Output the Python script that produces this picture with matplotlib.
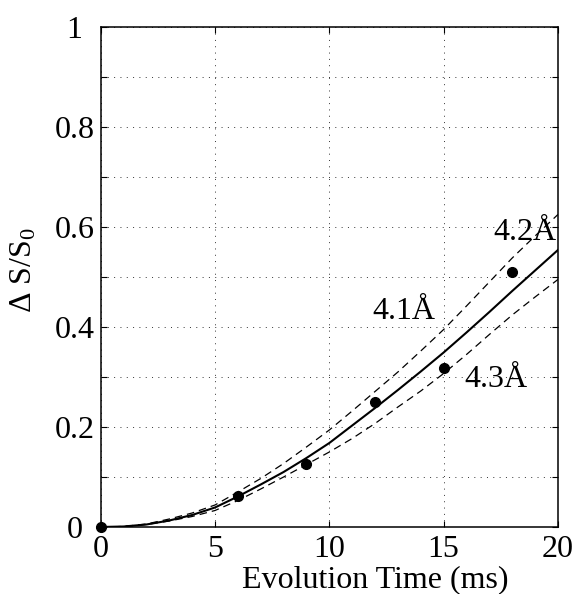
import matplotlib
matplotlib.use("Agg")
import matplotlib.pyplot as plt
import numpy as np

plt.rcParams["font.family"] = ["Liberation Serif", "DejaVu Serif"]
plt.rcParams["mathtext.fontset"] = "custom"
plt.rcParams["mathtext.rm"] = "Liberation Serif"
plt.rcParams["mathtext.it"] = "Liberation Serif:italic"

# measured points
t_meas = [0, 6, 9, 12, 15, 18]
ds_meas = [0.0, 0.062, 0.125, 0.249, 0.317, 0.509]

# simulated curves at 1 ms steps
t_sim = [0, 1, 2, 3, 4, 5, 6, 7, 8, 9, 10, 11, 12, 13, 14, 15, 16, 17, 18, 19, 20]
ds_41 = [0.0, 0.001, 0.006, 0.016, 0.028, 0.044, 0.070, 0.097, 0.127, 0.160, 0.194,
         0.232, 0.271, 0.310, 0.352, 0.395, 0.442, 0.490, 0.538, 0.582, 0.625]
ds_42 = [0.0, 0.001, 0.005, 0.013, 0.024, 0.039, 0.061, 0.085, 0.110, 0.138, 0.168,
         0.203, 0.238, 0.274, 0.311, 0.349, 0.389, 0.430, 0.472, 0.513, 0.554]
ds_43 = [0.0, 0.001, 0.005, 0.012, 0.021, 0.033, 0.053, 0.076, 0.100, 0.125, 0.150,
         0.177, 0.207, 0.240, 0.272, 0.307, 0.345, 0.385, 0.424, 0.460, 0.495]

curve_labels = ["4.1Å", "4.2Å", "4.3Å"]
x_ticks = [0, 5, 10, 15, 20]
y_ticks = [0, 0.1, 0.2, 0.3, 0.4, 0.5, 0.6, 0.7, 0.8, 0.9, 1.0]
y_ticklabels = ["0", "", "0.2", "", "0.4", "", "0.6", "", "0.8", "", "1"]

fig = plt.figure(figsize=(5.82, 5.94), dpi=100)
ax = fig.add_axes([0.173, 0.1128, 0.7857, 0.8418])

ax.plot(t_sim, ds_41, color="black", lw=0.9, ls=(0, (6, 4)))
ax.plot(t_sim, ds_43, color="black", lw=0.9, ls=(0, (6, 4)))
ax.plot(t_sim, ds_42, color="black", lw=1.5)
ax.plot(t_meas, ds_meas, "o", color="black", ms=7, clip_on=False, zorder=5)

ax.text(18.55, 0.588, curve_labels[1], fontsize=23, ha="center", va="center")
ax.text(13.26, 0.431, curve_labels[0], fontsize=23, ha="center", va="center")
ax.text(17.3, 0.294, curve_labels[2], fontsize=23, ha="center", va="center")

ax.set_xlim(0, 20)
ax.set_ylim(0, 1)
ax.set_xticks(x_ticks)
ax.set_yticks(y_ticks)
ax.set_yticklabels(y_ticklabels, ha="center")
ax.tick_params(axis="both", direction="in", length=4, width=0.8, top=True, right=True,
               labelsize=23)
ax.tick_params(axis="y", pad=19)
ax.tick_params(axis="x", pad=6)
ax.grid(True, color="#333333", ls=(0, (1, 5.5)), lw=0.7)
for s in ax.spines.values():
    s.set_linewidth(1.1)

ax.set_xlabel("Evolution Time (ms)", fontsize=23)
ax.xaxis.set_label_coords(0.60, -0.077)
ax.set_ylabel("Δ S/S$_\\mathrm{0}$", fontsize=23)
ax.yaxis.set_label_coords(-0.137, 0.513)

fig.savefig("out.png", dpi=100)
